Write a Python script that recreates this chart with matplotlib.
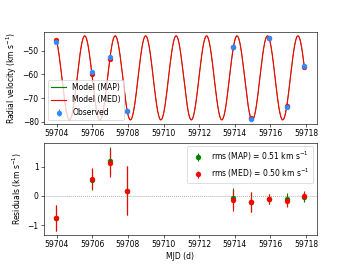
import numpy as np
import matplotlib
matplotlib.use("Agg")
import matplotlib.pyplot as plt

# observations
mjd = np.array([59703.98, 59705.97, 59706.98, 59707.95, 59713.92,
                59714.93, 59715.94, 59716.92, 59717.91])
rv_obs = np.array([-46.2, -59.2, -52.6, -75.4, -48.5, -78.7, -44.7, -73.7, -56.7])
rv_err = np.array([0.43, 0.35, 0.47, 0.84, 0.35, 0.33, 0.17, 0.20, 0.15])

# residuals
res_map = np.array([-0.75, 0.55, 1.20, 0.18, -0.07, -0.20, -0.10, -0.10, -0.05])
res_med = np.array([-0.75, 0.59, 1.12, 0.18, -0.15, -0.21, -0.11, -0.16, 0.01])

# orbit parameters (circular)
period = 1.711
k_amp = 17.7
gamma = -61.5
t_peak = 59703.86

t = np.linspace(mjd.min(), mjd.max(), 2000)
model = gamma + k_amp * np.cos(2 * np.pi * (t - t_peak) / period)
rv_model_pts = rv_obs - res_med

fig, (ax1, ax2) = plt.subplots(2, 1, figsize=(6.4, 4.8), dpi=55)

ax1.plot(t, model, color='green', lw=1.0, label='Model (MAP)')
ax1.plot(t, model, color='red', lw=1.5, label='Model (MED)')
ax1.plot(mjd, rv_model_pts, 'o', color='red', ms=6)
ax1.errorbar(mjd, rv_obs, yerr=rv_err, fmt='o', color='#2b8cff', ms=6, label='Observed')
ax1.set_ylabel('Radial velocity (km s$^{-1}$)')
ax1.set_xticks(np.arange(59704, 59719, 2))
leg = ax1.legend(loc='lower left')
leg.get_lines()[0].set_linewidth(1.5)

ax2.axhline(0, color='gray', ls=':', lw=1)
ax2.errorbar(mjd, res_map, yerr=rv_err, fmt='o', color='green', ms=6,
             label='rms (MAP) = 0.51 km s$^{-1}$')
ax2.errorbar(mjd, res_med, yerr=rv_err, fmt='o', color='red', ms=6,
             label='rms (MED) = 0.50 km s$^{-1}$')
ax2.set_ylabel('Residuals (km s$^{-1}$)')
ax2.set_xlabel('MJD (d)')
ax2.set_xticks(np.arange(59704, 59719, 2))
ax2.legend(loc='upper right')

fig.savefig('out.png', dpi=55)
